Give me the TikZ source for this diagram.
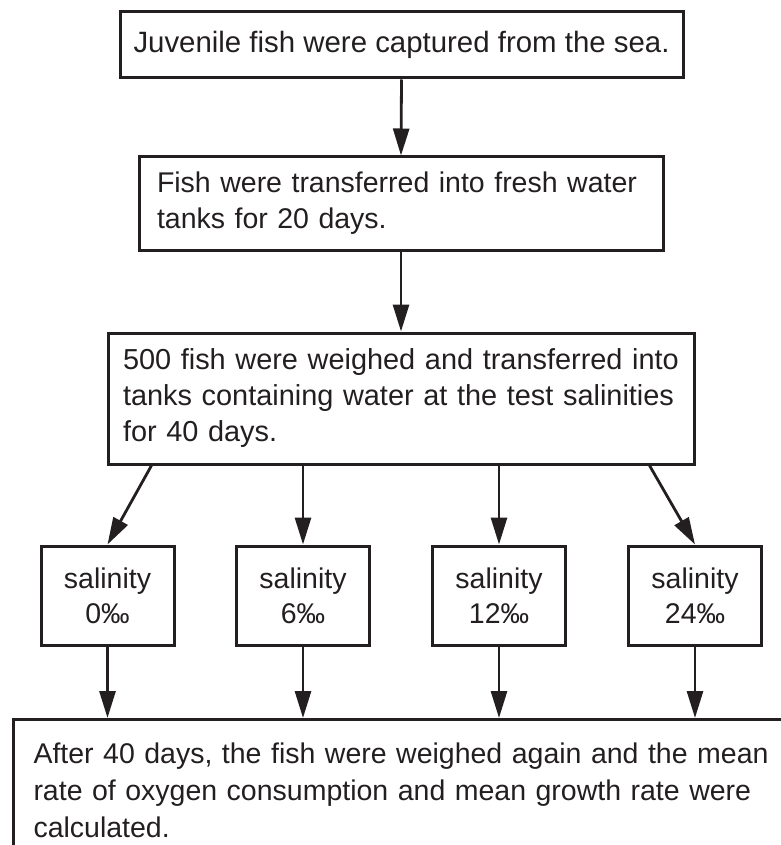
\documentclass[tikz,border=0pt]{standalone}
\usepackage{fontspec}
\setmainfont{Liberation Sans}
\usetikzlibrary{arrows.meta,calc}
\definecolor{ink}{HTML}{231F20}
\begin{document}
\begin{tikzpicture}[x=1pt,y=-1pt,
  box/.style={draw=ink,line width=3pt,text=ink,font=\fontsize{28.5}{36}\selectfont,inner sep=0pt},
  salbox/.style={box,minimum width=133pt,minimum height=99pt,align=center,font=\fontsize{28.5}{35}\selectfont},
  arr/.style={draw=ink,line width=2.8pt,-{Triangle[length=27pt,width=16pt]}}]
\useasboundingbox (0,0) rectangle (780,845);
\node[box,minimum width=563pt,minimum height=66pt,font=\fontsize{29.4}{36}\selectfont] (b1) at (401.5,45) {Juvenile fish were captured from the sea.};
\node[box,minimum width=524pt,minimum height=93pt,align=left,text width=488pt] (b2) at (401,203.5) {Fish were transferred into fresh water\\tanks for 20 days.};
\node[box,minimum width=586pt,minimum height=131pt,align=left,text width=556pt,font=\fontsize{28.9}{36}\selectfont] (b3) at (401,398.5) {500 fish were weighed and transferred into\\tanks containing water at the test salinities\\for 40 days.};
\node[salbox] (sa) at (107.5,595.5) {salinity\\0‰};
\node[salbox] (sb) at (303,595.5) {salinity\\6‰};
\node[salbox] (sc) at (499,595.5) {salinity\\12‰};
\node[salbox] (sd) at (695,595.5) {salinity\\24‰};
\node[box,anchor=north west,align=left,text width=760pt,inner xsep=20pt,inner ysep=23pt,font=\fontsize{28.5}{37}\selectfont] (bot) at (12,718) {After 40 days, the fish were weighed again and the mean\\rate of oxygen consumption and mean growth rate were\\calculated.};
\draw[arr] (b1.south) -- (b2.north);
\draw[arr] (b2.south) -- (b3.north);
\draw[arr] ($(b3.south west)+(45,0)$) -- (sa.north);
\draw[arr] (sb.north |- b3.south) -- (sb.north);
\draw[arr] (sc.north |- b3.south) -- (sc.north);
\draw[arr] ($(b3.south east)+(-46,0)$) -- (sd.north);
\draw[arr] (sa.south) -- (sa.south |- bot.north);
\draw[arr] (sb.south) -- (sb.south |- bot.north);
\draw[arr] (sc.south) -- (sc.south |- bot.north);
\draw[arr] (sd.south) -- (sd.south |- bot.north);
\end{tikzpicture}
\end{document}
